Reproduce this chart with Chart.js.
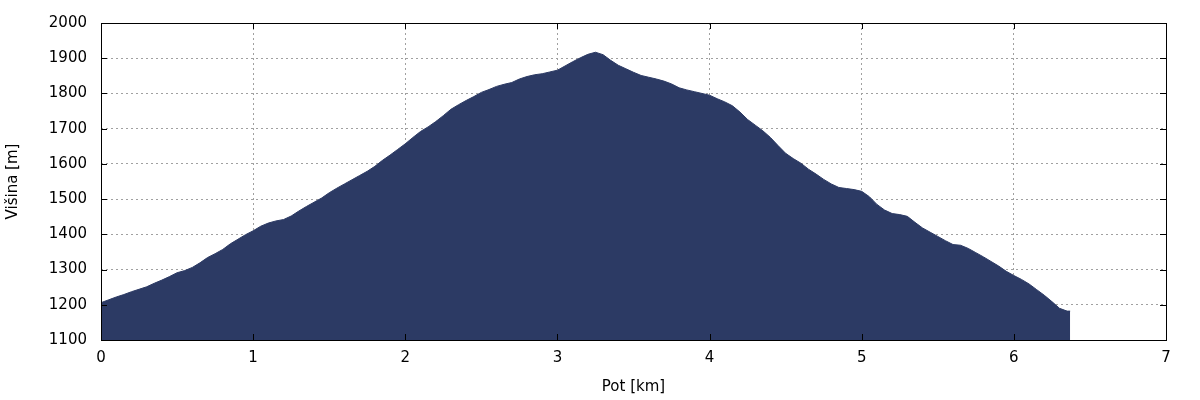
<!DOCTYPE html>
<html>
<head>
<meta charset="utf-8">
<script src="https://cdn.jsdelivr.net/npm/chart.js@4.4.1/dist/chart.umd.min.js"></script>
<style>
  html, body { margin: 0; padding: 0; background: #fff; }
  #wrap { width: 1200px; height: 400px; }
</style>
</head>
<body>
<div id="wrap"><canvas id="profile"></canvas></div>
<script>
// razdalja [km]
const distanceKm = [
    0.00, 0.05, 0.10, 0.15, 0.20, 0.25, 0.30, 0.35, 0.40, 0.45,
    0.50, 0.55, 0.60, 0.65, 0.70, 0.75, 0.80, 0.85, 0.90, 0.95,
    1.00, 1.05, 1.10, 1.15, 1.20, 1.25, 1.30, 1.35, 1.40, 1.45,
    1.50, 1.55, 1.60, 1.65, 1.70, 1.75, 1.80, 1.85, 1.90, 1.95,
    2.00, 2.05, 2.10, 2.15, 2.20, 2.25, 2.30, 2.35, 2.40, 2.45,
    2.50, 2.55, 2.60, 2.65, 2.70, 2.75, 2.80, 2.85, 2.90, 2.95,
    3.00, 3.05, 3.10, 3.15, 3.20, 3.25, 3.30, 3.35, 3.40, 3.45,
    3.50, 3.55, 3.60, 3.65, 3.70, 3.75, 3.80, 3.85, 3.90, 3.95,
    4.00, 4.05, 4.10, 4.15, 4.20, 4.25, 4.30, 4.35, 4.40, 4.45,
    4.50, 4.55, 4.60, 4.65, 4.70, 4.75, 4.80, 4.85, 4.90, 4.95,
    5.00, 5.05, 5.10, 5.15, 5.20, 5.25, 5.30, 5.35, 5.40, 5.45,
    5.50, 5.55, 5.60, 5.65, 5.70, 5.75, 5.80, 5.85, 5.90, 5.95,
    6.00, 6.05, 6.10, 6.15, 6.20, 6.25, 6.30, 6.35, 6.37
];
// višina [m]
const elevationM = [
    1206, 1214, 1222, 1229, 1237, 1244, 1251, 1261, 1270, 1280,
    1291, 1297, 1306, 1319, 1334, 1345, 1357, 1373, 1386, 1399,
    1410, 1423, 1432, 1438, 1442, 1452, 1466, 1479, 1491, 1503,
    1518, 1531, 1543, 1555, 1567, 1579, 1593, 1610, 1625, 1641,
    1657, 1675, 1692, 1705, 1720, 1737, 1755, 1768, 1780, 1791,
    1803, 1811, 1820, 1826, 1831, 1841, 1848, 1853, 1856, 1861,
    1866, 1878, 1890, 1901, 1911, 1917, 1910, 1894, 1880, 1870,
    1860, 1851, 1846, 1841, 1835, 1827, 1816, 1810, 1805, 1800,
    1795, 1785, 1776, 1765, 1747, 1726, 1710, 1694, 1675, 1652,
    1630, 1615, 1602, 1585, 1571, 1556, 1543, 1533, 1530, 1527,
    1522, 1507, 1485, 1469, 1459, 1456, 1451, 1434, 1418, 1406,
    1394, 1382, 1371, 1369, 1360, 1348, 1336, 1323, 1310, 1295,
    1283, 1272, 1259, 1243, 1227, 1209, 1190, 1182, 1182
];
const xTitle = "Pot [km]";
const yTitle = "Višina [m]";

const fillColor = "#2c3a64";
const fontFamily = "'DejaVu Sans', sans-serif";

const points = distanceKm.map((d, i) => ({ x: d, y: elevationM[i] }));

// okvir in notranje oznake (kot gnuplot)
const frameTicks = {
    id: "frameTicks",
    afterDraw(chart) {
        const { ctx, chartArea: a, scales } = chart;
        ctx.save();
        ctx.strokeStyle = "#000";
        ctx.lineWidth = 1;
        ctx.beginPath();
        scales.y.ticks.forEach(t => {
            const py = Math.round(scales.y.getPixelForValue(t.value)) + 0.5;
            ctx.moveTo(a.left, py); ctx.lineTo(a.left + 6, py);
            ctx.moveTo(a.right, py); ctx.lineTo(a.right - 6, py);
        });
        scales.x.ticks.forEach(t => {
            const px = Math.round(scales.x.getPixelForValue(t.value)) + 0.5;
            ctx.moveTo(px, a.bottom); ctx.lineTo(px, a.bottom - 6);
            ctx.moveTo(px, a.top); ctx.lineTo(px, a.top + 6);
        });
        ctx.stroke();
        ctx.strokeRect(Math.round(a.left) + 0.5, Math.round(a.top) + 0.5,
            Math.round(a.right - a.left), Math.round(a.bottom - a.top));
        ctx.restore();
    }
};

new Chart(document.getElementById("profile"), {
    type: "line",
    data: {
        datasets: [{
            data: points,
            fill: "start",
            tension: 0,
            backgroundColor: fillColor,
            borderColor: fillColor,
            borderWidth: 1,
            pointRadius: 0
        }]
    },
    options: {
        responsive: true,
        maintainAspectRatio: false,
        animation: false,
        layout: { padding: { top: 22, right: 34, left: 0, bottom: 0 } },
        plugins: { legend: { display: false }, tooltip: { enabled: false } },
        scales: {
            x: {
                type: "linear",
                min: 0,
                max: 7,
                ticks: { stepSize: 1, color: "#000", padding: 9, font: { family: fontFamily, size: 15 },
                    callback: v => String(v) },
                grid: { color: "#a0a0a0", lineWidth: 1, drawTicks: false, tickLength: 0 },
                border: { display: false, dash: [2, 3] },
                title: { display: true, text: xTitle, color: "#000", padding: { top: 8 }, font: { family: fontFamily, size: 15 } },
                afterFit(scale) { scale.height = 60; }
            },
            y: {
                min: 1100,
                max: 2000,
                ticks: { stepSize: 100, color: "#000", padding: 14, font: { family: fontFamily, size: 15 },
                    callback: v => String(v) },
                grid: { color: "#a0a0a0", lineWidth: 1, drawTicks: false, tickLength: 0 },
                border: { display: false, dash: [2, 3] },
                title: { display: true, text: yTitle, color: "#000", padding: { bottom: 0 }, font: { family: fontFamily, size: 15 } },
                afterFit(scale) { scale.width = 101; }
            }
        }
    },
    plugins: [frameTicks]
});
</script>
</body>
</html>
